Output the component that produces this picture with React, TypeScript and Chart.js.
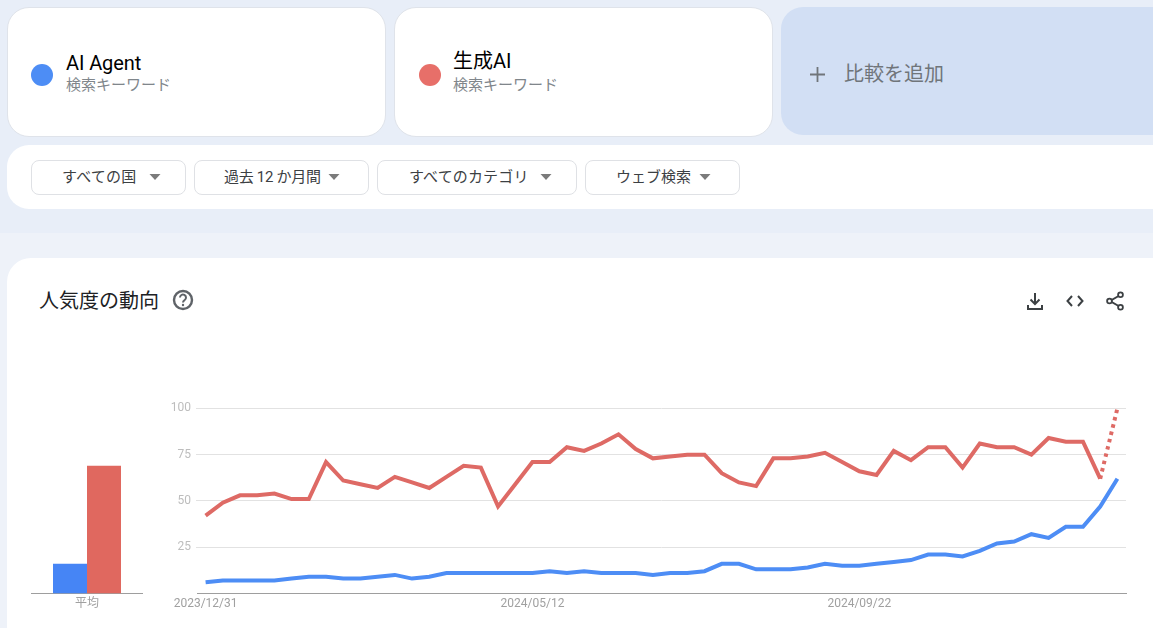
import React, { useEffect, useRef } from "react";
import { Chart, registerables } from "chart.js";

Chart.register(...registerables);

const weeks = [
  "2023/12/31", "2024/01/07", "2024/01/14", "2024/01/21", "2024/01/28", "2024/02/04",
  "2024/02/11", "2024/02/18", "2024/02/25", "2024/03/03", "2024/03/10", "2024/03/17",
  "2024/03/24", "2024/03/31", "2024/04/07", "2024/04/14", "2024/04/21", "2024/04/28",
  "2024/05/05", "2024/05/12", "2024/05/19", "2024/05/26", "2024/06/02", "2024/06/09",
  "2024/06/16", "2024/06/23", "2024/06/30", "2024/07/07", "2024/07/14", "2024/07/21",
  "2024/07/28", "2024/08/04", "2024/08/11", "2024/08/18", "2024/08/25", "2024/09/01",
  "2024/09/08", "2024/09/15", "2024/09/22", "2024/09/29", "2024/10/06", "2024/10/13",
  "2024/10/20", "2024/10/27", "2024/11/03", "2024/11/10", "2024/11/17", "2024/11/24",
  "2024/12/01", "2024/12/08", "2024/12/15", "2024/12/22", "2024/12/29", "2025/01/05",
];
const shownDates = ["2023/12/31", "2024/05/12", "2024/09/22"];
const aiAgent = [
  6, 7, 7, 7, 7, 8, 9, 9, 8, 8, 9, 10, 8, 9, 11, 11, 11, 11, 11, 11, 12, 11, 12, 11, 11, 11, 10,
  11, 11, 12, 16, 16, 13, 13, 13, 14, 16, 15, 15, 16, 17, 18, 21, 21, 20, 23, 27, 28, 32, 30, 36,
  36, 47, 62,
];
const seiseiAI = [
  42, 49, 53, 53, 54, 51, 51, 71, 61, 59, 57, 63, 60, 57, 63, 69, 68, 47, 59, 71, 71, 79, 77, 81,
  86, 78, 73, 74, 75, 75, 65, 60, 58, 73, 73, 74, 76, 71, 66, 64, 77, 72, 79, 79, 68, 81, 79, 79,
  75, 84, 82, 82, 62, 100,
];
const averageLabels = ["平均"];
const averageAgent = [16];
const averageSeisei = [69];
const yTicks = [25, 50, 75, 100];

const BLUE = "#4d8df5";
const RED = "#e0685f";
const FONT = 'Roboto, "Noto Sans CJK JP", sans-serif';

function LineChart() {
  const ref = useRef<HTMLCanvasElement>(null);
  useEffect(() => {
    const chart = new Chart(ref.current!, {
      type: "line",
      data: {
        labels: weeks,
        datasets: [
          {
            label: "AI Agent",
            data: aiAgent,
            borderColor: BLUE,
            borderWidth: 4,
            pointRadius: 0,
            tension: 0,
          },
          {
            label: "生成AI",
            data: seiseiAI,
            borderColor: "#de6a65",
            borderWidth: 4,
            pointRadius: 0,
            tension: 0,
            segment: {
              borderDash: (ctx: any) => (ctx.p1DataIndex === weeks.length - 1 ? [3.5, 4] : undefined),
            },
          },
        ],
      },
      options: {
        responsive: false,
        animation: false,
        layout: { padding: { top: 18.4, right: 27, left: 0, bottom: 0 } },
        plugins: { legend: { display: false }, tooltip: { enabled: false } },
        scales: {
          x: {
            type: "category",
            offset: true,
            grid: { display: false, drawTicks: false },
            border: { color: "#9e9e9e", width: 1 },
            afterFit: (s: any) => {
              s.height = 34.6;
            },
            ticks: {
              autoSkip: false,
              maxRotation: 0,
              minRotation: 0,
              padding: 3,
              color: "#a0a0a0",
              font: { family: FONT, size: 12 },
              callback(this: any, v: any) {
                const l = this.getLabelForValue(v);
                return shownDates.includes(l) ? l : "";
              },
            },
          },
          y: {
            min: 0,
            max: 100,
            afterBuildTicks: (s: any) => {
              s.ticks = yTicks.map((value) => ({ value }));
            },
            afterFit: (s: any) => {
              s.width = 37;
            },
            grid: { color: "#e2e2e2", lineWidth: 1, tickLength: 1 },
            border: { display: false },
            ticks: {
              padding: 5,
              color: "#bdbdbd",
              font: { family: FONT, size: 12 },
            },
          },
        },
      },
    });
    return () => chart.destroy();
  }, []);
  return (
    <canvas
      ref={ref}
      width={993}
      height={238}
      style={{ position: "absolute", left: 160, top: 390, width: 993, height: 238 }}
    />
  );
}

function BarChart() {
  const ref = useRef<HTMLCanvasElement>(null);
  useEffect(() => {
    const chart = new Chart(ref.current!, {
      type: "bar",
      data: {
        labels: averageLabels,
        datasets: [
          { label: "AI Agent", data: averageAgent, backgroundColor: "#4685f5" },
          { label: "生成AI", data: averageSeisei, backgroundColor: RED },
        ],
      },
      options: {
        responsive: false,
        animation: false,
        layout: { padding: { top: 18.4, left: 0, right: 0, bottom: 0 } },
        plugins: { legend: { display: false }, tooltip: { enabled: false } },
        datasets: { bar: { barPercentage: 1, categoryPercentage: 68 / 112 } },
        scales: {
          x: {
            grid: { display: false, drawTicks: false },
            border: { color: "#9e9e9e", width: 1 },
            afterFit: (s: any) => {
              s.height = 34.6;
            },
            ticks: {
              padding: 3,
              color: "#a0a0a0",
              font: { family: FONT, size: 12 },
            },
          },
          y: { display: false, min: 0, max: 100 },
        },
      } as any,
    });
    return () => chart.destroy();
  }, []);
  return (
    <canvas
      ref={ref}
      width={112}
      height={238}
      style={{ position: "absolute", left: 31, top: 390, width: 112, height: 238 }}
    />
  );
}

const box = (l: number, t: number, w: number, h: number, extra: React.CSSProperties = {}): React.CSSProperties => ({
  position: "absolute",
  left: l,
  top: t,
  width: w,
  height: h,
  boxSizing: "border-box",
  ...extra,
});

function Txt(props: { x: number; cy: number; size: number; color: string; spacing?: number; children: React.ReactNode }) {
  return (
    <div
      style={{
        position: "absolute",
        left: props.x,
        top: props.cy - 15,
        height: 30,
        lineHeight: "30px",
        fontSize: props.size,
        color: props.color,
        whiteSpace: "nowrap",
        fontFamily: FONT,
        letterSpacing: props.spacing ?? 0,
      }}
    >
      {props.children}
    </div>
  );
}

function Filter(props: { x: number; w: number; tx: number; ax: number; label: string; spacing?: number }) {
  return (
    <>
      <div style={box(props.x, 160, props.w, 35, { border: "1px solid #dfe1e5", borderRadius: 8, background: "#fff" })} />
      <Txt x={props.tx} cy={177} size={15} color="#3c4043" spacing={props.spacing}>
        {props.label}
      </Txt>
      <svg style={box(props.ax, 174, 12, 6)} viewBox="0 0 12 6">
        <path d="M0.5 0H11.5L6 6Z" fill="#7b7b7b" />
      </svg>
    </>
  );
}

export default function App() {
  return (
    <div
      style={{
        position: "fixed",
        left: 0,
        top: 0,
        width: 1153,
        height: 628,
        overflow: "hidden",
        background: "#eef2f9",
        fontFamily: FONT,
      }}
    >
      <div style={box(0, 0, 1153, 233, { background: "#e8eef8" })} />
      <div style={box(7, 7, 379, 130, { background: "#fff", border: "1px solid #dfe3ea", borderRadius: 22 })} />
      <div style={box(394, 7, 379, 130, { background: "#fff", border: "1px solid #dfe3ea", borderRadius: 22 })} />
      <div style={box(781, 7, 400, 128, { background: "#d2dff4", borderRadius: 22 })} />
      <div style={box(7, 145, 1170, 64, { background: "#fff", borderRadius: 22 })} />
      <div style={box(7, 258, 1170, 400, { background: "#fff", borderRadius: 24 })} />

      <div style={box(31, 64, 22, 22, { background: BLUE, borderRadius: "50%" })} />
      <Txt x={66} cy={63} size={20} color="#000" spacing={-0.1}>
        AI Agent
      </Txt>
      <Txt x={66} cy={85} size={15} color="#80868b">
        検索キーワード
      </Txt>
      <div style={box(419, 64, 22, 22, { background: "#e76f69", borderRadius: "50%" })} />
      <Txt x={453} cy={61} size={20} color="#000">
        生成AI
      </Txt>
      <Txt x={453} cy={85} size={15} color="#80868b">
        検索キーワード
      </Txt>
      <svg style={box(809, 66, 17, 17)} viewBox="0 0 17 17">
        <path d="M8.5 1V16M1 8.5H16" stroke="#70757a" strokeWidth="1.8" fill="none" />
      </svg>
      <Txt x={844} cy={74} size={20} color="#70757a">
        比較を追加
      </Txt>

      <Filter x={31} w={155} tx={62} ax={149} label="すべての国" spacing={0.2} />
      <Filter x={194} w={175} tx={224} ax={328} label="過去 12 か月間" spacing={-0.3} />
      <Filter x={377} w={200} tx={409} ax={540} label="すべてのカテゴリ" spacing={0.15} />
      <Filter x={585} w={155} tx={616} ax={699} label="ウェブ検索" />

      <Txt x={39} cy={301} size={20} color="#202124">
        人気度の動向
      </Txt>
      <svg style={box(172, 289, 22, 22)} viewBox="0 0 22 22">
        <circle cx="11" cy="11" r="9" stroke="#5f6368" strokeWidth="2.4" fill="none" />
        <path d="M8 8.6a3 3 0 1 1 4.7 2.4c-1.1.8-1.7 1.3-1.7 2.6" stroke="#5f6368" strokeWidth="2" fill="none" />
        <circle cx="11" cy="16" r="1.2" fill="#5f6368" />
      </svg>
      <svg style={box(1025, 291, 20, 20)} viewBox="0 0 20 20">
        <path d="M10 2V12.5M5.5 8.5L10 13L14.5 8.5M3 14V18H17V14" stroke="#3c4043" strokeWidth="2" fill="none" />
      </svg>
      <svg style={box(1065, 291, 20, 20)} viewBox="0 0 20 20">
        <path d="M7 5L2.5 10L7 15M13 5L17.5 10L13 15" stroke="#3c4043" strokeWidth="2" fill="none" />
      </svg>
      <svg style={box(1105, 291, 20, 20)} viewBox="0 0 20 20">
        <path d="M14.5 4.5L5 10L14.5 15.5" stroke="#3c4043" strokeWidth="2" fill="none" />
        <circle cx="15.5" cy="3.8" r="2.4" stroke="#3c4043" strokeWidth="1.8" fill="#fff" />
        <circle cx="4.5" cy="10" r="2.4" stroke="#3c4043" strokeWidth="1.8" fill="#fff" />
        <circle cx="15.5" cy="16.2" r="2.4" stroke="#3c4043" strokeWidth="1.8" fill="#fff" />
      </svg>

      <BarChart />
      <LineChart />
    </div>
  );
}
